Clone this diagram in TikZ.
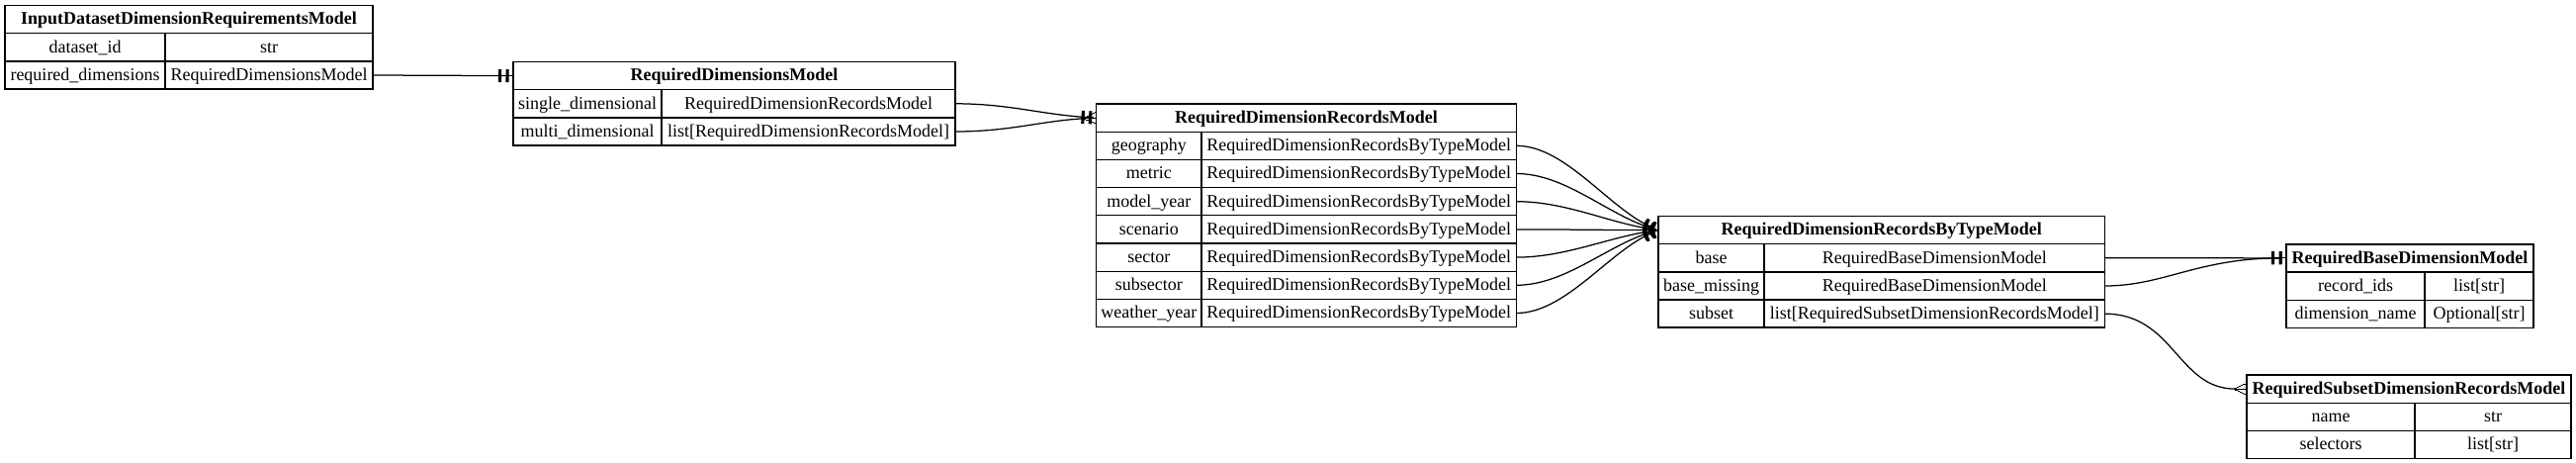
\documentclass[tikz,border=0pt]{standalone}
\usepackage{fontspec}
\setmainfont{Liberation Serif}
\usetikzlibrary{arrows.meta}

\pgfdeclarearrow{
  name = GvTee,
  parameters = {\the\pgfarrowlength,\the\pgfarrowwidth,\the\pgfarrowlinewidth},
  setup code = {
    \pgfarrowssettipend{\pgfarrowlength}
    \pgfarrowssetlineend{.2\pgfarrowlength}
    \pgfarrowssetbackend{0pt}
    \pgfarrowsupperhullpoint{0pt}{.5\pgfarrowwidth}
    \pgfarrowsupperhullpoint{\pgfarrowlength}{.5\pgfarrowwidth}
    \pgfarrowssavethe\pgfarrowlength
    \pgfarrowssavethe\pgfarrowwidth
    \pgfarrowssavethe\pgfarrowlinewidth
  },
  drawing code = {
    \pgfsetlinewidth{\pgfarrowlinewidth}
    \pgfpathrectangle{\pgfqpoint{0pt}{-.5\pgfarrowwidth}}{\pgfqpoint{.42\pgfarrowlength}{\pgfarrowwidth}}
    \pgfusepathqfill
    \pgfpathmoveto{\pgfqpoint{0pt}{0pt}}
    \pgfpathlineto{\pgfqpoint{\pgfarrowlength}{0pt}}
    \pgfusepathqstroke
  },
  defaults = {length=7.5bp, width=13bp}
}

\pgfdeclarearrow{
  name = GvCrow,
  parameters = {\the\pgfarrowlength,\the\pgfarrowwidth,\the\pgfarrowlinewidth},
  setup code = {
    \pgfarrowssettipend{\pgfarrowlength}
    \pgfarrowssetlineend{.1\pgfarrowlength}
    \pgfarrowssetbackend{0pt}
    \pgfarrowsupperhullpoint{0pt}{0pt}
    \pgfarrowsupperhullpoint{\pgfarrowlength}{.5\pgfarrowwidth}
    \pgfarrowssavethe\pgfarrowlength
    \pgfarrowssavethe\pgfarrowwidth
    \pgfarrowssavethe\pgfarrowlinewidth
  },
  drawing code = {
    \pgfsetlinewidth{1.4\pgfarrowlinewidth}
    \pgfpathmoveto{\pgfqpoint{\pgfarrowlength}{.5\pgfarrowwidth}}
    \pgfpathlineto{\pgfqpoint{0pt}{0pt}}
    \pgfpathlineto{\pgfqpoint{\pgfarrowlength}{-.5\pgfarrowwidth}}
    \pgfpathmoveto{\pgfqpoint{0pt}{0pt}}
    \pgfpathlineto{\pgfqpoint{\pgfarrowlength}{0pt}}
    \pgfusepathqstroke
  },
  defaults = {length=13bp, width=12bp}
}

\tikzset{
  cell/.style={draw, line width=1.3bp, inner sep=0pt, outer sep=0pt,
    minimum height=28.2bp, text height=14bp, text depth=3.2bp,
    anchor=north west, font=\fontsize{18.07}{21}\selectfont},
  hcell/.style={cell, font=\fontsize{18.07}{21}\selectfont\bfseries},
  frame/.style={draw, line width=1.7bp},
  conn/.style={draw, line width=1.25bp},
  one/.style={-{GvTee[] GvTee[]}},
  many/.style={-{GvCrow[]}},
}

\begin{document}
\begin{tikzpicture}[x=1bp, y=-1bp]
\path[use as bounding box, fill=white] (0,0) rectangle (2605,468);

% T1
\node[hcell, minimum width=372bp] (t1h) at (5,5.5) {InputDatasetDimensionRequirementsModel};
\node[cell, minimum width=162bp] (t1a1) at (5,33.7) {dataset\_id};
\node[cell, minimum width=210bp] (t1b1) at (167,33.7) {str};
\node[cell, minimum width=162bp] (t1a2) at (5,61.9) {required\_dimensions};
\node[cell, minimum width=210bp] (t1b2) at (167,61.9) {RequiredDimensionsModel};
\draw[frame] (t1h.north west) rectangle (t1b2.south east);

% T2
\node[hcell, minimum width=447bp] (t2h) at (519,62.5) {RequiredDimensionsModel};
\node[cell, minimum width=150bp] (t2a1) at (519,90.7) {single\_dimensional};
\node[cell, minimum width=297bp] (t2b1) at (669,90.7) {RequiredDimensionRecordsModel};
\node[cell, minimum width=150bp] (t2a2) at (519,118.9) {multi\_dimensional};
\node[cell, minimum width=297bp] (t2b2) at (669,118.9) {list[RequiredDimensionRecordsModel]};
\draw[frame] (t2h.north west) rectangle (t2b2.south east);

% T3
\node[hcell, minimum width=425bp] (t3h) at (1108.5,105) {RequiredDimensionRecordsModel};
\node[cell, minimum width=106.5bp] (t3a1) at (1108.5,133.2) {geography};
\node[cell, minimum width=318.5bp] (t3b1) at (1215,133.2) {RequiredDimensionRecordsByTypeModel};
\node[cell, minimum width=106.5bp] (t3a2) at (1108.5,161.4) {metric};
\node[cell, minimum width=318.5bp] (t3b2) at (1215,161.4) {RequiredDimensionRecordsByTypeModel};
\node[cell, minimum width=106.5bp] (t3a3) at (1108.5,189.6) {model\_year};
\node[cell, minimum width=318.5bp] (t3b3) at (1215,189.6) {RequiredDimensionRecordsByTypeModel};
\node[cell, minimum width=106.5bp] (t3a4) at (1108.5,217.8) {scenario};
\node[cell, minimum width=318.5bp] (t3b4) at (1215,217.8) {RequiredDimensionRecordsByTypeModel};
\node[cell, minimum width=106.5bp] (t3a5) at (1108.5,246.0) {sector};
\node[cell, minimum width=318.5bp] (t3b5) at (1215,246.0) {RequiredDimensionRecordsByTypeModel};
\node[cell, minimum width=106.5bp] (t3a6) at (1108.5,274.2) {subsector};
\node[cell, minimum width=318.5bp] (t3b6) at (1215,274.2) {RequiredDimensionRecordsByTypeModel};
\node[cell, minimum width=106.5bp] (t3a7) at (1108.5,302.4) {weather\_year};
\node[cell, minimum width=318.5bp] (t3b7) at (1215,302.4) {RequiredDimensionRecordsByTypeModel};
\draw[frame] (t3h.north west) rectangle (t3b7.south east);

% T4
\node[hcell, minimum width=451.5bp] (t4h) at (1677,218.5) {RequiredDimensionRecordsByTypeModel};
\node[cell, minimum width=107bp] (t4a1) at (1677,246.7) {base};
\node[cell, minimum width=344.5bp] (t4b1) at (1784,246.7) {RequiredBaseDimensionModel};
\node[cell, minimum width=107bp] (t4a2) at (1677,274.9) {base\_missing};
\node[cell, minimum width=344.5bp] (t4b2) at (1784,274.9) {RequiredBaseDimensionModel};
\node[cell, minimum width=107bp] (t4a3) at (1677,303.1) {subset};
\node[cell, minimum width=344.5bp] (t4b3) at (1784,303.1) {list[RequiredSubsetDimensionRecordsModel]};
\draw[frame] (t4h.north west) rectangle (t4b3.south east);

% T5
\node[hcell, minimum width=250bp] (t5h) at (2312,246.8) {RequiredBaseDimensionModel};
\node[cell, minimum width=140bp] (t5a1) at (2312,275) {record\_ids};
\node[cell, minimum width=110bp] (t5b1) at (2452,275) {list[str]};
\node[cell, minimum width=140bp] (t5a2) at (2312,303.2) {dimension\_name};
\node[cell, minimum width=110bp] (t5b2) at (2452,303.2) {Optional[str]};
\draw[frame] (t5h.north west) rectangle (t5b2.south east);

% T6
\node[hcell, minimum width=328bp] (t6h) at (2272,379) {RequiredSubsetDimensionRecordsModel};
\node[cell, minimum width=170bp] (t6a1) at (2272,407.2) {name};
\node[cell, minimum width=158bp] (t6b1) at (2442,407.2) {str};
\node[cell, minimum width=170bp] (t6a2) at (2272,435.4) {selectors};
\node[cell, minimum width=158bp] (t6b2) at (2442,435.4) {list[str]};
\draw[frame] (t6h.north west) rectangle (t6b2.south east);

% connectors
\draw[conn, one] (t1b2.east) -- (t2h.west);
\draw[conn, one] (t2b1.east) .. controls +(55,0) and +(-55,-3) .. (t3h.west);
\draw[conn, many] (t2b2.east) .. controls +(55,0) and +(-55,3) .. (t3h.west);

\draw[conn, one] (t3b1.east) .. controls +(50,0) and +(-50,-21.3) .. (t4h.west);
\draw[conn, one] (t3b2.east) .. controls +(50,0) and +(-50,-14.3) .. (t4h.west);
\draw[conn, one] (t3b3.east) .. controls +(50,0) and +(-50,-7.2) .. (t4h.west);
\draw[conn, one] (t3b4.east) .. controls +(50,0) and +(-50,0) .. (t4h.west);
\draw[conn, one] (t3b5.east) .. controls +(50,0) and +(-50,6.9) .. (t4h.west);
\draw[conn, one] (t3b6.east) .. controls +(50,0) and +(-50,13.9) .. (t4h.west);
\draw[conn, one] (t3b7.east) .. controls +(50,0) and +(-50,21) .. (t4h.west);

\draw[conn, one] (t4b1.east) -- (t5h.west);
\draw[conn, one] (t4b2.east) .. controls +(60,0) and +(-90,0) .. (t5h.west);
\draw[conn, many] (t4b3.east) .. controls +(70,0) and +(-70,0) .. (t6h.west);
\end{tikzpicture}
\end{document}
